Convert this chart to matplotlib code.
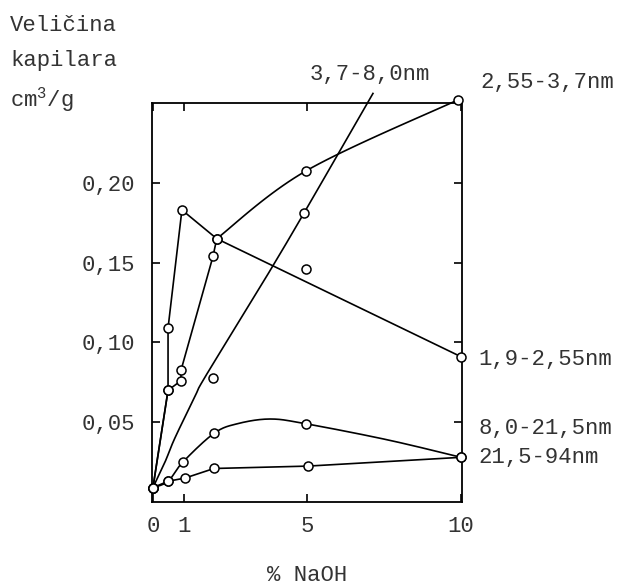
import numpy as np
import matplotlib
matplotlib.use("Agg")
import matplotlib.pyplot as plt

plt.rcParams['font.family'] = ['Liberation Mono', 'DejaVu Sans Mono']
plt.rcParams['mathtext.fontset'] = 'custom'
plt.rcParams['mathtext.rm'] = 'Liberation Mono'
plt.rcParams['mathtext.it'] = 'Liberation Mono'

# 1,9-2,55 nm
a_x = [0, 0.49, 0.49, 0.94, 2.07, 10.0]
a_y = [0.009, 0.070, 0.109, 0.183, 0.165, 0.091]

# 2,55-3,7 nm
b_x = [0, 0.49, 0.91, 0.91, 1.95, 2.07, 4.97, 9.9]
b_y = [0.009, 0.070, 0.076, 0.0825, 0.154, 0.165, 0.2075, 0.252]

# 3,7-8,0 nm (curve, markers separately)
c_x = [0, 0.39, 0.71, 1.36, 1.62, 2.82, 3.8, 4.9, 7.14]
c_y = [0.009, 0.025, 0.040, 0.066, 0.076, 0.114, 0.145, 0.181, 0.256]
c_pts_x = [4.9, 1.95, 4.97]
c_pts_y = [0.181, 0.078, 0.146]

# 8,0-21,5 nm
d_x = [0, 0.49, 0.97, 1.98, 4.97, 10.0]
d_y = [0.009, 0.013, 0.025, 0.043, 0.049, 0.028]
d_curve_x = [0, 0.49, 0.97, 1.98, 2.73, 3.8, 4.97, 7.6, 10.0]
d_curve_y = [0.009, 0.013, 0.025, 0.043, 0.049, 0.052, 0.049, 0.039, 0.028]

# 21,5-94 nm
e_x = [0, 0.49, 1.04, 1.98, 5.03, 10.0]
e_y = [0.009, 0.013, 0.015, 0.021, 0.0225, 0.028]

xticks = [0, 1, 5, 10]
yticks = [0.05, 0.10, 0.15, 0.20]
ytick_labels = ["0,05", "0,10", "0,15", "0,20"]


def smooth(xs, ys, n=20):
    # catmull-rom path through the read points, just for drawing
    p = np.column_stack([xs, ys]).astype(float)
    p = np.vstack([p[0], p, p[-1]])
    out = []
    t = np.linspace(0, 1, n, endpoint=False)[:, None]
    for i in range(1, len(p) - 2):
        p0, p1, p2, p3 = p[i - 1], p[i], p[i + 1], p[i + 2]
        seg = 0.5 * ((2 * p1) + (-p0 + p2) * t + (2 * p0 - 5 * p1 + 4 * p2 - p3) * t ** 2
                     + (-p0 + 3 * p1 - 3 * p2 + p3) * t ** 3)
        out.append(seg)
    out.append(p[-2][None, :])
    out = np.vstack(out)
    return out[:, 0], out[:, 1]


txt = "#333333"
fig = plt.figure(figsize=(6.21, 5.84), dpi=100)
ax = fig.add_axes([0.2448, 0.1404, 0.4992, 0.6832])

lw = 1.2
mk = dict(marker='o', markersize=6.5, markerfacecolor='white', markeredgecolor='black',
          markeredgewidth=1.1, linestyle='none', clip_on=False, zorder=3)

ax.plot(a_x, a_y, color='black', lw=lw, clip_on=False)
ax.plot(a_x, a_y, **mk)

# lower part of B straight, upper part smooth
ax.plot(b_x[:6], b_y[:6], color='black', lw=lw, clip_on=False)
bx, by = smooth(b_x[5:], b_y[5:])
ax.plot(bx, by, color='black', lw=lw, clip_on=False)
ax.plot(b_x, b_y, **mk)

cx, cy = smooth(c_x, c_y)
ax.plot(cx, cy, color='black', lw=lw, clip_on=False)
ax.plot(c_pts_x, c_pts_y, **mk)

dx, dy = smooth(d_curve_x, d_curve_y)
ax.plot(dx, dy, color='black', lw=lw, clip_on=False)
ax.plot(d_x, d_y, **mk)

ax.plot(e_x, e_y, color='black', lw=lw, clip_on=False)
ax.plot(e_x, e_y, **mk)

ax.set_xlim(-0.03, 10.03)
ax.set_ylim(0, 0.25)
ax.set_xticks(xticks)
ax.set_xticklabels([str(v) for v in xticks])
ax.set_yticks(yticks)
ax.set_yticklabels(ytick_labels)
ax.tick_params(direction='in', length=6, width=1.2, labelsize=16, colors='black',
               labelcolor=txt, top=True, right=True, pad=12)
ax.tick_params(axis='x', pad=10)
for s in ax.spines.values():
    s.set_linewidth(1.3)

fs = 16
fig.text(0.016, 0.957, "Veličina", fontsize=fs, color=txt, va='center')
fig.text(0.016, 0.897, "kapilara", fontsize=fs, color=txt, va='center')
fig.text(0.016, 0.829, r"$\mathrm{cm}^{3}\mathrm{/g}$", fontsize=fs, color=txt, va='center')

fig.text(0.499, 0.872, "3,7-8,0nm", fontsize=fs, color=txt, va='center')
fig.text(0.773, 0.858, "2,55-3,7nm", fontsize=fs, color=txt, va='center')
fig.text(0.770, 0.385, "1,9-2,55nm", fontsize=fs, color=txt, va='center')
fig.text(0.770, 0.267, "8,0-21,5nm", fontsize=fs, color=txt, va='center')
fig.text(0.770, 0.217, "21,5-94nm", fontsize=fs, color=txt, va='center')

fig.text(0.494, 0.0154, "% NaOH", fontsize=fs, color=txt, ha='center', va='center')

fig.savefig("out.png", dpi=100)
